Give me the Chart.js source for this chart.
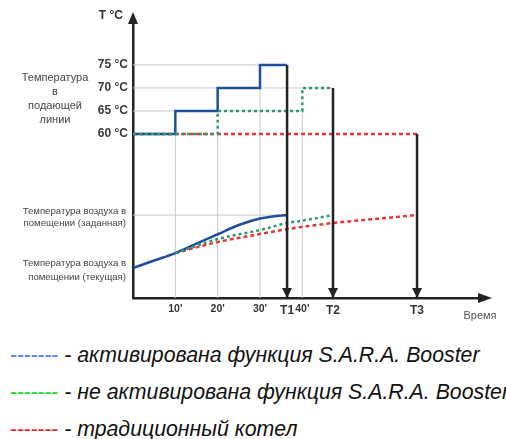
<!DOCTYPE html>
<html lang="ru">
<head>
<meta charset="utf-8">
<title>S.A.R.A. Booster</title>
<script src="https://cdn.jsdelivr.net/npm/chart.js@4.4.1/dist/chart.umd.min.js"></script>
<style>
  body {
    margin: 0;
    width: 506px;
    height: 439px;
    overflow: hidden;
    position: relative;
    background: #fff;
    font-family: "Liberation Sans", Arial, sans-serif;
  }
  #wrap { position: absolute; left: 0; top: 0; width: 506px; height: 330px; }
  .legend {
    position: absolute;
    left: 10px;
    white-space: nowrap;
    font-size: 21.3px;
    line-height: 37px;
    font-style: italic;
    color: #111;
  }
  .legend .dash { font-style: normal; letter-spacing: -0.2px; }
</style>
</head>
<body>
<div id="wrap"><canvas id="myChart"></canvas></div>

<div class="legend" style="top:337px"><span class="dash" style="color:#4b7bf5">-------</span> - активирована функция S.A.R.A. Booster</div>
<div class="legend" style="top:374px"><span class="dash" style="color:#16d916">-------</span> - не активирована функция S.A.R.A. Booster</div>
<div class="legend" style="top:411px"><span class="dash" style="color:#f42222">-------</span> - традиционный котел</div>

<script>
/* moments on the time axis (minutes) */
const T1 = 36.4;
const T2 = 47.25;
const T3 = 67.1;

const timeTicks = [10, 20, 30, T1, 40, T2, T3];
const timeTickLabels = ["10'", "20'", "30'", "T1", "40'", "T2", "T3"];
const supplyTicks = [60, 65, 70, 75];

/* supply temperature, steps */
const boosterSupplyTime = [0, 10, 20, 30, T1];
const boosterSupplyTemp = [60, 65, 70, 75, 75];
const noBoosterSupplyTime = [0, 20, 40, T2];
const noBoosterSupplyTemp = [60, 65, 70, 70];
const boilerSupplyTime = [0, T3];
const boilerSupplyTemp = [60, 60];

/* room air temperature */
const roomCurrent = 18;
const roomSet = 22;
const boosterRoomTime = [0, 5, 10, 15, 20, 25, 30, 33, T1];
const boosterRoomTemp = [18.0, 18.57, 19.13, 19.85, 20.55, 21.25, 21.74, 21.89, 22.0];
const noBoosterRoomTime = [10, 20, 30, T1, 40, T2];
const noBoosterRoomTemp = [19.13, 20.19, 20.87, 21.4, 21.58, 22.0];
const boilerRoomTime = [10, 20, 30, T1, T2, 57, T3];
const boilerRoomTemp = [19.13, 19.96, 20.57, 20.94, 21.4, 21.7, 22.0];

/* scale ranges */
const Y_MIN = 24.35, Y_MAX = 83.9;
const AIR_MIN = 15.74, AIR_MAX = 36.42;
const X_MAX = 81.5;

const zip = (xs, ys) => xs.map((x, i) => ({ x: x, y: ys[i] }));

const BLUE = "#1f4f9c";
const GREEN = "#2f9a6c";
const RED = "#e23a36";
const GRID = "#c9c9c9";
const INK = "#222";
const FONT = "'Liberation Sans', Arial, sans-serif";

function guide(points, axis) {
  return {
    data: points, yAxisID: axis || "y",
    borderColor: GRID, borderWidth: 1, pointRadius: 0, order: 5
  };
}

function timeArrow(t, temp) {
  return {
    data: [{ x: t, y: temp }, { x: t, y: Y_MIN }],
    borderColor: INK, borderWidth: 2.5, pointRadius: 0, order: 0, arrow: true
  };
}

function tri(ctx, x1, y1, x2, y2, x3, y3) {
  ctx.beginPath();
  ctx.moveTo(x1, y1);
  ctx.lineTo(x2, y2);
  ctx.lineTo(x3, y3);
  ctx.closePath();
  ctx.fill();
}

/* arrows and the free text round the axes */
const annotate = {
  id: "annotate",
  afterDatasetsDraw(chart) {
    const { ctx, chartArea: a, scales } = chart;
    const y = scales.y, air = scales.air;
    ctx.save();
    ctx.fillStyle = INK;

    chart.data.datasets.forEach((ds, i) => {
      if (!ds.arrow) return;
      const pts = chart.getDatasetMeta(i).data;
      const p = pts[pts.length - 1];
      tri(ctx, p.x, p.y, p.x - 5, p.y - 10, p.x + 5, p.y - 10);
    });

    // axis heads
    tri(ctx, a.left, a.top - 12, a.left - 5, a.top, a.left + 5, a.top);
    tri(ctx, a.right + 14, a.bottom, a.right, a.bottom - 5, a.right, a.bottom + 5);

    ctx.textBaseline = "middle";
    ctx.fillStyle = "#333";
    ctx.textAlign = "right";
    ctx.font = "bold 12px " + FONT;
    ctx.fillText("T °C", a.left - 10, a.top - 8);

    ctx.fillStyle = "#444";
    ctx.textAlign = "center";
    ctx.font = "11px " + FONT;
    const mid = y.getPixelForValue(67.6);
    ["Температура", "в", "подающей", "линии"].forEach((s, i) => {
      ctx.fillText(s, 55, mid + (i - 1.5) * 14);
    });

    ctx.textAlign = "right";
    ctx.font = "9.6px " + FONT;
    const ySet = air.getPixelForValue(roomSet);
    ctx.fillText("Температура воздуха в", a.left - 7, ySet - 4);
    ctx.fillText("помещении (заданная)", a.left - 7, ySet + 8);
    const yCur = air.getPixelForValue(roomCurrent);
    ctx.fillText("Температура воздуха в", a.left - 7, yCur - 5);
    ctx.fillText("помещении (текущая)", a.left - 7, yCur + 9);

    ctx.fillStyle = "#555";
    ctx.textAlign = "center";
    ctx.font = "11px " + FONT;
    ctx.fillText("Время", a.right + 2, a.bottom + 18);
    ctx.restore();
  }
};

const ctx = document.getElementById("myChart").getContext("2d");

new Chart(ctx, {
  type: "line",
  data: {
    datasets: [
      // grey guides
      guide([{ x: 0, y: 75 }, { x: T1, y: 75 }]),
      guide([{ x: 0, y: 70 }, { x: T2, y: 70 }]),
      guide([{ x: 0, y: 65 }, { x: 40, y: 65 }]),
      guide([{ x: 10, y: Y_MIN }, { x: 10, y: 60 }]),
      guide([{ x: 20, y: Y_MIN }, { x: 20, y: 60 }]),
      guide([{ x: 30, y: Y_MIN }, { x: 30, y: 70 }]),
      guide([{ x: 40, y: Y_MIN }, { x: 40, y: 65 }]),
      guide([{ x: 0, y: roomSet }, { x: T1, y: roomSet }], "air"),

      // supply line
      {
        data: zip(boilerSupplyTime, boilerSupplyTemp),
        borderColor: RED, borderWidth: 2.5, borderDash: [4, 3],
        pointRadius: 0, order: 3
      },
      {
        data: zip(boosterSupplyTime, boosterSupplyTemp), stepped: true,
        borderColor: BLUE, borderWidth: 2.5, pointRadius: 0, order: 2
      },
      {
        data: zip(noBoosterSupplyTime, noBoosterSupplyTemp), stepped: true,
        borderColor: GREEN, borderWidth: 2.5, borderDash: [3, 3],
        pointRadius: 0, order: 1
      },

      // room air
      {
        data: zip(boilerRoomTime, boilerRoomTemp), yAxisID: "air",
        cubicInterpolationMode: "monotone",
        borderColor: RED, borderWidth: 2.5, borderDash: [4, 3],
        pointRadius: 0, order: 3
      },
      {
        data: zip(noBoosterRoomTime, noBoosterRoomTemp), yAxisID: "air",
        cubicInterpolationMode: "monotone",
        borderColor: GREEN, borderWidth: 2.5, borderDash: [3, 3],
        pointRadius: 0, order: 1
      },
      {
        data: zip(boosterRoomTime, boosterRoomTemp), yAxisID: "air",
        cubicInterpolationMode: "monotone",
        borderColor: BLUE, borderWidth: 2.5, pointRadius: 0, order: 2
      },

      // T1, T2, T3
      timeArrow(T1, 75),
      timeArrow(T2, 70),
      timeArrow(T3, 60)
    ]
  },
  options: {
    responsive: true,
    maintainAspectRatio: false,
    animation: false,
    layout: { padding: { top: 24, right: 28, bottom: 0, left: 0 } },
    plugins: { legend: { display: false }, tooltip: { enabled: false } },
    scales: {
      x: {
        type: "linear", min: 0, max: X_MAX,
        grid: { display: false, drawTicks: false },
        border: { display: true, color: INK, width: 2.5 },
        afterBuildTicks: s => { s.ticks = timeTicks.map(v => ({ value: v })); },
        afterFit: s => { s.height = 32; },
        ticks: {
          autoSkip: false, maxRotation: 0, padding: 5, color: "#333",
          callback: (v, i) => timeTickLabels[i],
          font: c => {
            const big = String(timeTickLabels[c.index]).startsWith("T");
            return { family: FONT, weight: "bold", size: big ? 12 : 10.5 };
          }
        }
      },
      y: {
        type: "linear", min: Y_MIN, max: Y_MAX,
        grid: { display: false, drawTicks: false },
        border: { display: true, color: INK, width: 2.5 },
        afterBuildTicks: s => { s.ticks = supplyTicks.map(v => ({ value: v })); },
        afterFit: s => { s.width = 133; },
        ticks: {
          padding: 5, color: "#3a3a3a",
          font: { family: FONT, weight: "bold", size: 12 },
          callback: v => v + " °C"
        }
      },
      air: {
        type: "linear", display: false, min: AIR_MIN, max: AIR_MAX
      }
    }
  },
  plugins: [annotate]
});
</script>
</body>
</html>
